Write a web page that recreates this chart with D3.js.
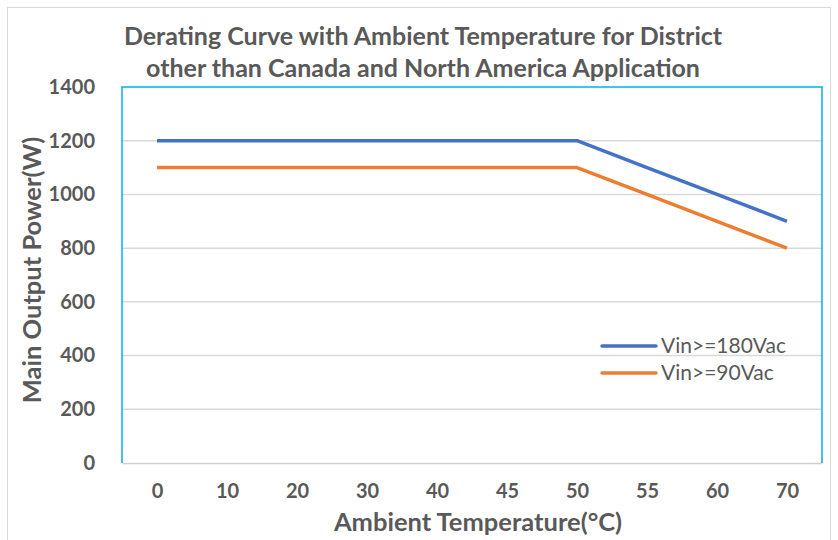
<!DOCTYPE html>
<html>
<head>
<meta charset="utf-8">
<script src="https://cdn.jsdelivr.net/npm/d3@7"></script>
<style>
  body { margin: 0; background: #fff; }
  text { font-family: Lato, "Open Sans", sans-serif; }
</style>
</head>
<body>
<div id="chart"></div>
<script>
// values
let temps = ["0", "10", "20", "30", "40", "45", "50", "55", "60", "70"]
let vin180 = [1200, 1200, 1200, 1200, 1200, 1200, 1200, 1100, 1000, 900]
let vin90 = [1100, 1100, 1100, 1100, 1100, 1100, 1100, 1000, 900, 800]
let yTicks = [0, 200, 400, 600, 800, 1000, 1200, 1400]
let seriesNames = ["Vin>=180Vac", "Vin>=90Vac"]
let seriesColors = ["#4472c4", "#ed7d31"]

let W = 838, H = 540
let margin = {top: 87, right: 16, bottom: 77, left: 122},
    width = W - margin.left - margin.right,
    height = H - margin.top - margin.bottom;

let svg = d3.select('#chart').append('svg')
    .attr("width", W)
    .attr("height", H)

// outer chart frame
svg.append("rect")
    .attr("x", 7.5).attr("y", 7.5)
    .attr("width", 823).attr("height", 545)
    .attr("fill", "none")
    .attr("stroke", "#d9d9d9")

let g = svg.append("g")
    .attr("transform", "translate(" + margin.left + "," + margin.top + ")");

let x = d3.scalePoint().domain(temps).range([0, width]).padding(0.5);
let y = d3.scaleLinear().domain([0, 1400]).range([height, 0]);

// gridlines
g.append("g")
    .selectAll("line")
    .data(yTicks.filter(d => d > 0 && d < 1400))
    .join("line")
    .attr("x1", 0).attr("x2", width)
    .attr("y1", d => y(d)).attr("y2", d => y(d))
    .attr("stroke", "#d9d9d9")
    .attr("stroke-width", 1.5)

// y axis labels
let yAxis = g.append("g")
    .call(d3.axisLeft(y).tickValues(yTicks).tickFormat(d3.format("d")).tickSize(0).tickPadding(27))
yAxis.select(".domain").remove()
yAxis.selectAll("text")
    .attr("fill", "#595959")
    .style("font-size", "20px")
    .style("font-weight", "bold")

// x axis labels
let xAxis = g.append("g")
    .attr("transform", "translate(0," + height + ")")
    .call(d3.axisBottom(x).tickSize(0).tickPadding(21))
xAxis.select(".domain").attr("stroke", "#d0d0d0").attr("stroke-width", 1.5)
xAxis.selectAll("text")
    .attr("fill", "#595959")
    .style("font-size", "20px")
    .style("font-weight", "bold")

// plot area border (blue)
g.append("path")
    .attr("d", "M0," + height + "V0H" + width + "V" + height)
    .attr("fill", "none")
    .attr("stroke", "#00b0f0")
    .attr("stroke-width", 1.5)

let valueline = d3.line()
    .x((d, i) => x(temps[i]))
    .y(d => y(d));

[vin180, vin90].forEach((s, i) => {
  g.append("path")
    .datum(s)
    .attr("fill", "none")
    .attr("stroke", seriesColors[i])
    .attr("stroke-width", 3.5)
    .attr("stroke-linejoin", "round")
    .attr("d", valueline)
})

// legend
let legend = svg.append("g").attr("transform", "translate(602,346)")
seriesNames.forEach((n, i) => {
  let row = legend.append("g").attr("transform", "translate(0," + i * 27 + ")")
  row.append("line")
    .attr("x1", 0).attr("x2", 54)
    .attr("stroke", seriesColors[i])
    .attr("stroke-width", 3.5)
    .attr("stroke-linecap", "round")
  row.append("text")
    .attr("x", 59).attr("dy", "0.35em")
    .attr("fill", "#595959")
    .style("font-size", "21px")
    .text(n)
})

// title
let title = svg.append("text")
    .attr("text-anchor", "middle")
    .attr("fill", "#595959")
    .style("font-size", "25px")
    .style("font-weight", "bold")
title.append("tspan").attr("x", 423).attr("y", 45).text("Derating Curve with Ambient Temperature for District")
title.append("tspan").attr("x", 423).attr("y", 77).text("other than Canada and North America Application")

// axis titles
svg.append("text")
    .attr("x", 478).attr("y", 531)
    .attr("text-anchor", "middle")
    .attr("fill", "#595959")
    .style("font-size", "25.5px")
    .style("font-weight", "bold")
    .text("Ambient Temperature(°C)")

svg.append("text")
    .attr("transform", "translate(41,270) rotate(-90)")
    .attr("text-anchor", "middle")
    .attr("fill", "#595959")
    .style("font-size", "25.5px")
    .style("font-weight", "bold")
    .text("Main Output Power(W)")
</script>
</body>
</html>
